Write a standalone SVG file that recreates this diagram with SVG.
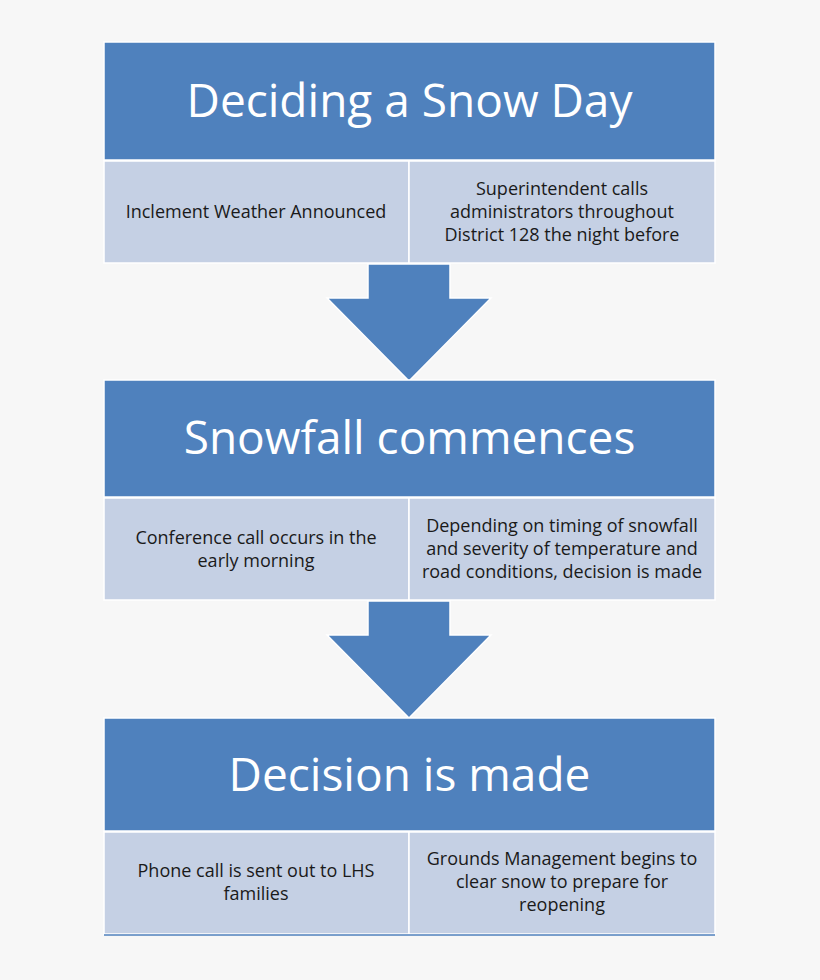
<svg xmlns="http://www.w3.org/2000/svg" width="820" height="980" viewBox="0 0 820 980">
<style>
.hdr{fill:#4F81BD;stroke:#ffffff;stroke-width:1.5}
.sub{fill:#C5D0E4;stroke:#ffffff;stroke-width:1.5}
.arrow{fill:#4F81BD;stroke:#ffffff;stroke-width:1.5}
.title{font-family:"Open Sans",Lato,sans-serif;font-size:46px;fill:#ffffff;text-anchor:middle}
.txt{font-family:"Open Sans",Lato,sans-serif;font-size:18px;fill:#1a1a1a;text-anchor:middle}
</style>
<rect width="820" height="980" fill="#F7F7F7"/>
<g id="connectors">
<polygon class="arrow" points="368,264 450,264 450,298 491,298 409,381 327,298 368,298"/>
<polygon class="arrow" points="368,601 450,601 450,635 491,635 409,718 327,635 368,635"/>
</g>
<g id="node1">
<rect class="hdr" x="104" y="42" width="611" height="118"/>
<text class="title" x="409.5" y="117">Deciding a Snow Day</text>
<rect class="sub" x="104" y="161" width="305" height="102"/>
<rect class="sub" x="409" y="161" width="306" height="102"/>
<text class="txt" x="256" y="218">Inclement Weather Announced</text>
<text class="txt" x="562" y="195">Superintendent calls</text>
<text class="txt" x="562" y="218">administrators throughout</text>
<text class="txt" x="562" y="241">District 128 the night before</text>
</g>
<g id="node2">
<rect class="hdr" x="104" y="380" width="611" height="117"/>
<text class="title" x="409.5" y="454">Snowfall commences</text>
<rect class="sub" x="104" y="498" width="305" height="102"/>
<rect class="sub" x="409" y="498" width="306" height="102"/>
<text class="txt" x="256" y="544">Conference call occurs in the</text>
<text class="txt" x="256" y="567">early morning</text>
<text class="txt" x="562" y="532">Depending on timing of snowfall</text>
<text class="txt" x="562" y="555">and severity of temperature and</text>
<text class="txt" x="562" y="578">road conditions, decision is made</text>
</g>
<g id="node3">
<rect class="hdr" x="104" y="718" width="611" height="113"/>
<text class="title" x="409.5" y="791">Decision is made</text>
<rect class="sub" x="104" y="832" width="305" height="102"/>
<rect class="sub" x="409" y="832" width="306" height="102"/>
<line x1="104" y1="935" x2="715" y2="935" stroke="#4F81BD" stroke-width="1.5"/>
<text class="txt" x="256" y="877">Phone call is sent out to LHS</text>
<text class="txt" x="256" y="900">families</text>
<text class="txt" x="562" y="865">Grounds Management begins to</text>
<text class="txt" x="562" y="888">clear snow to prepare for</text>
<text class="txt" x="562" y="911">reopening</text>
</g>
</svg>
